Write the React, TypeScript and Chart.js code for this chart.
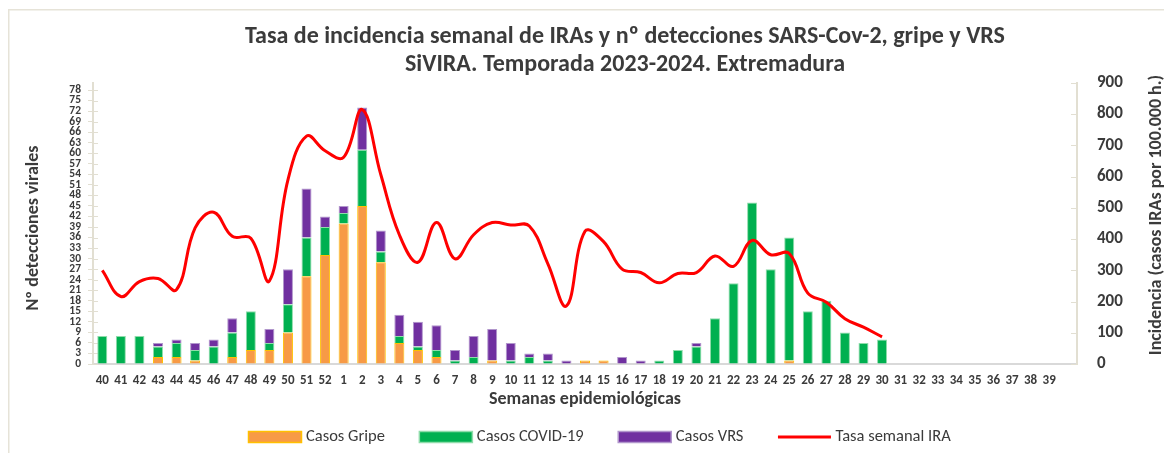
import { useEffect, useRef } from 'react';
import { Chart, registerables } from 'chart.js';

Chart.register(...registerables);

const weeks = ['40','41','42','43','44','45','46','47','48','49','50','51','52','1','2','3','4','5','6','7','8','9','10','11','12','13','14','15','16','17','18','19','20','21','22','23','24','25','26','27','28','29','30','31','32','33','34','35','36','37','38','39',''];

const casosGripe = [0,0,0,2,2,1,0,2,4,4,9,25,31,40,45,29,6,4,2,0,0,1,0,0,0,0,1,1,0,0,0,0,0,0,0,0,0,1,0,0,0,0,0,null,null,null,null,null,null,null,null,null,null];
const casosCovid = [8,8,8,3,4,3,5,7,11,2,8,11,8,3,16,3,2,1,2,1,2,0,1,2,1,0,0,0,0,0,1,4,5,13,23,46,27,35,15,18,9,6,7,null,null,null,null,null,null,null,null,null,null];
const casosVRS = [0,0,0,1,1,2,2,4,0,4,10,14,3,2,12,6,6,7,7,3,6,9,5,1,2,1,0,0,2,1,0,0,1,0,0,0,0,0,0,0,0,0,0,null,null,null,null,null,null,null,null,null,null];
const tasaIRA = [300,216,264,274,238,436,486,409,403,266,590,730,683,662,815,607,414,326,453,337,414,453,445,442,321,186,425,392,304,293,260,290,293,346,313,396,350,354,227,198,145,118,87,null,null,null,null,null,null,null,null,null,null];

const leftTicksMax = 80;
const leftStep = 3;
const rightTicksMax = 900;
const rightStep = 100;

const titleLines = ['Tasa de incidencia semanal de IRAs y nº detecciones SARS-Cov-2, gripe y VRS', 'SiVIRA. Temporada 2023-2024. Extremadura'];
const leftTitle = 'Nº detecciones virales';
const rightTitle = 'Incidencia (casos IRAs por 100.000 h.)';
const xTitle = 'Semanas epidemiológicas';

const FONT = 'Carlito, Lato, "Open Sans", sans-serif';
const TEXT = '#3b3b3b';
const AXIS = '#e2dfd2';

const decor = {
  id: 'decor',
  beforeDraw(chart: any) {
    const ctx = chart.ctx;
    ctx.save();
    ctx.strokeStyle = '#e6e3d8';
    ctx.lineWidth = 1.5;
    ctx.beginPath();
    ctx.moveTo(0.75, chart.height);
    ctx.lineTo(0.75, 1.75);
    ctx.lineTo(chart.width, 1.75);
    ctx.stroke();
    ctx.restore();
  },
  beforeDatasetsDraw(chart: any) {
    const ctx = chart.ctx;
    const area = chart.chartArea;
    ctx.save();
    ctx.strokeStyle = AXIS;
    ctx.lineWidth = 1;
    const yl = chart.scales.y;
    for (const t of yl.ticks) {
      const py = Math.round(yl.getPixelForValue(t.value)) + 0.5;
      ctx.beginPath();
      ctx.moveTo(area.left, py);
      ctx.lineTo(area.left + 5, py);
      ctx.stroke();
    }
    const yr = chart.scales.y1;
    for (const t of yr.ticks) {
      const py = Math.round(yr.getPixelForValue(t.value)) + 0.5;
      ctx.beginPath();
      ctx.moveTo(area.right - 6, py);
      ctx.lineTo(area.right, py);
      ctx.stroke();
    }
    ctx.restore();
  },
  afterDraw(chart: any) {
    const ctx = chart.ctx;
    const area = chart.chartArea;
    ctx.save();
    ctx.fillStyle = TEXT;
    ctx.textAlign = 'center';
    ctx.textBaseline = 'alphabetic';
    ctx.font = `bold 24px ${FONT}`;
    ctx.fillText(titleLines[0], 617, 34.5);
    ctx.fillText(titleLines[1], 617, 62.5);

    ctx.textBaseline = 'middle';
    ctx.font = `bold 18px ${FONT}`;
    ctx.fillText(xTitle, (area.left + area.right) / 2, 391);

    ctx.save();
    ctx.font = `bold 18px ${FONT}`;
    ctx.translate(25, 220);
    ctx.rotate(-Math.PI / 2);
    ctx.fillText(leftTitle, 0, 0);
    ctx.restore();

    ctx.save();
    ctx.font = `bold 18px ${FONT}`;
    ctx.translate(1148.5, 207);
    ctx.rotate(-Math.PI / 2);
    ctx.fillText(rightTitle, 0, 0);
    ctx.restore();

    // legend
    const ds = chart.data.datasets;
    const order = [0, 1, 2, 3];
    let x = 240.5;
    const y = 429;
    const boxW = 53;
    const boxH = 11;
    ctx.font = `16.5px ${FONT}`;
    ctx.textAlign = 'left';
    for (const i of order) {
      const d = ds[i];
      if (d.type === 'line') {
        ctx.strokeStyle = d.borderColor;
        ctx.lineWidth = 3;
        ctx.beginPath();
        ctx.moveTo(x, y);
        ctx.lineTo(x + boxW, y);
        ctx.stroke();
      } else {
        ctx.fillStyle = d.backgroundColor;
        ctx.fillRect(x, y - boxH / 2, boxW, boxH);
        ctx.strokeStyle = d.borderColor;
        ctx.lineWidth = 1.5;
        ctx.strokeRect(x, y - boxH / 2, boxW, boxH);
      }
      x += boxW + 4.5;
      ctx.fillStyle = TEXT;
      ctx.fillText(d.label, x, y);
      x += ctx.measureText(d.label).width + 34.5;
    }
    ctx.restore();
  },
};

export default function App() {
  const ref = useRef<HTMLCanvasElement>(null);
  useEffect(() => {
    const chart = new Chart(ref.current as HTMLCanvasElement, {
      type: 'bar',
      data: {
        labels: weeks,
        datasets: [
          {
            type: 'bar',
            label: 'Casos Gripe',
            data: casosGripe,
            backgroundColor: '#f79a46',
            borderColor: '#ffc000',
            borderWidth: 1,
            yAxisID: 'y',
            order: 1,
            stack: 's',
          },
          {
            type: 'bar',
            label: 'Casos COVID-19',
            data: casosCovid,
            backgroundColor: '#00b050',
            borderColor: '#8fdcaa',
            borderWidth: 1,
            yAxisID: 'y',
            order: 1,
            stack: 's',
          },
          {
            type: 'bar',
            label: 'Casos VRS',
            data: casosVRS,
            backgroundColor: '#7030a0',
            borderColor: '#b196cc',
            borderWidth: 1,
            yAxisID: 'y',
            order: 1,
            stack: 's',
          },
          {
            type: 'line',
            label: 'Tasa semanal IRA',
            data: tasaIRA,
            borderColor: '#ff0000',
            backgroundColor: '#ff0000',
            borderWidth: 3,
            pointRadius: 0,
            tension: 0.4,
            yAxisID: 'y1',
            order: 0,
          },
        ] as any,
      },
      options: {
        animation: false,
        responsive: false,
        maintainAspectRatio: false,
        layout: { padding: { top: 75, left: 0, right: 0, bottom: 0 } },
        datasets: { bar: { categoryPercentage: 1, barPercentage: 0.54 } } as any,
        plugins: {
          legend: { display: false },
          title: { display: false },
          tooltip: { enabled: false },
        },
        scales: {
          x: {
            stacked: true,
            grid: { display: true, drawOnChartArea: false, drawTicks: false },
            border: { display: true, color: '#d9d9d9', width: 2 },
            ticks: {
              autoSkip: false,
              maxRotation: 0,
              minRotation: 0,
              padding: 9,
              color: TEXT,
              font: { family: FONT, size: 13, weight: 'bold' },
            },
            afterFit: (s: any) => { s.height = 97; },
          },
          y: {
            type: 'linear',
            position: 'left',
            stacked: true,
            min: 0,
            max: leftTicksMax,
            grid: { drawOnChartArea: false, drawTicks: true, tickLength: 5, color: AXIS },
            border: { display: true, color: AXIS, width: 2 },
            ticks: {
              stepSize: leftStep,
              includeBounds: false,
              autoSkip: false,
              padding: 7,
              color: TEXT,
              font: { family: FONT, size: 11.5, weight: 'bold' },
            },
            afterFit: (s: any) => { s.width = 85; },
          },
          y1: {
            type: 'linear',
            position: 'right',
            min: 0,
            max: rightTicksMax,
            grid: { drawOnChartArea: false, drawTicks: false },
            border: { display: true, color: AXIS, width: 2 },
            ticks: {
              stepSize: rightStep,
              autoSkip: false,
              padding: 20,
              color: TEXT,
              font: { family: FONT, size: 17, weight: 'bold' },
            },
            afterFit: (s: any) => { s.width = 95; },
          },
        },
      } as any,
      plugins: [decor],
    });
    return () => chart.destroy();
  }, []);
  return (
    <div style={{ width: 1164, height: 445, overflow: 'hidden' }}>
      <canvas ref={ref} width={1164} height={453} style={{ display: 'block', width: 1164, height: 453 }} />
    </div>
  );
}
